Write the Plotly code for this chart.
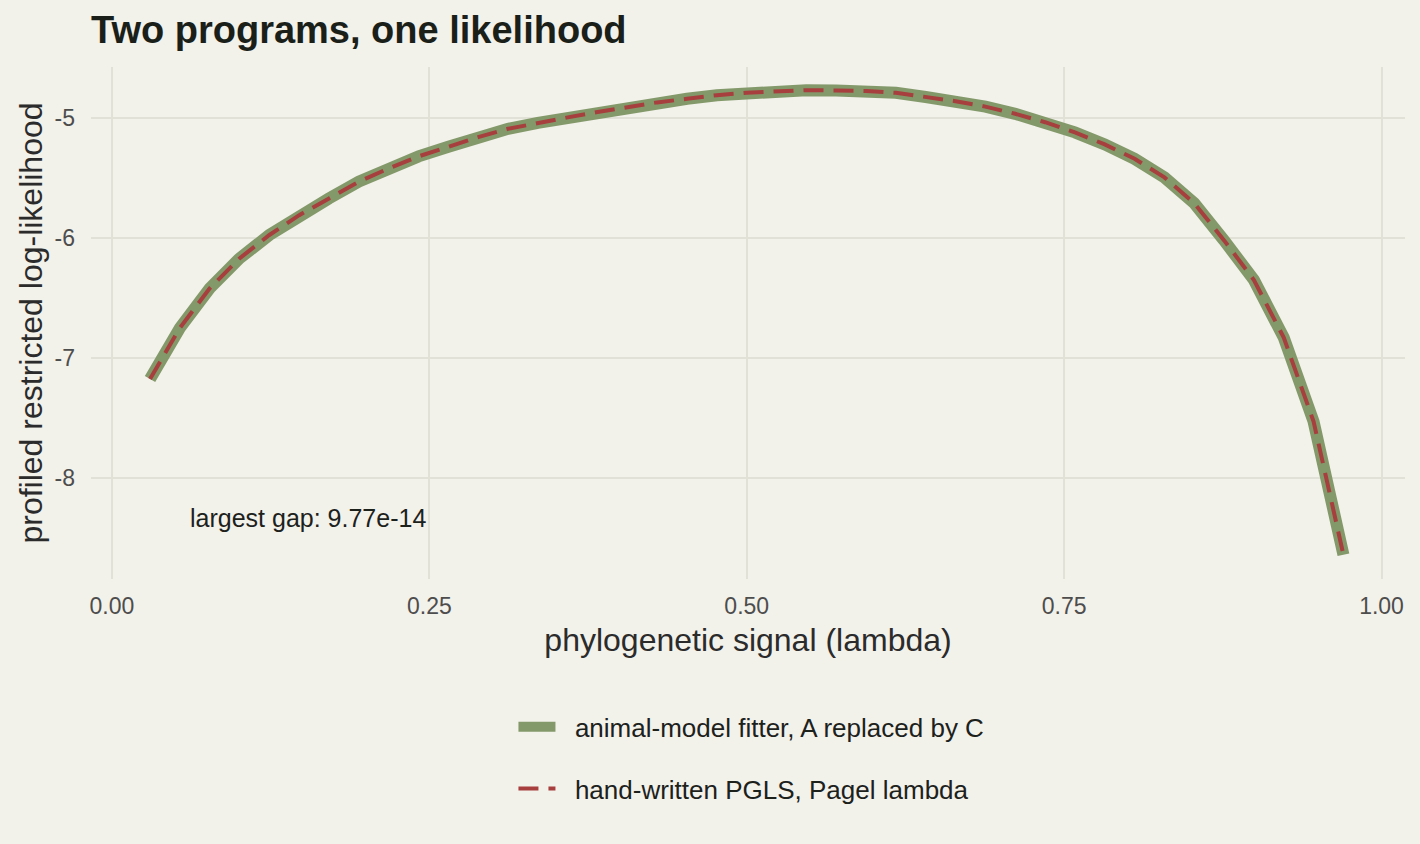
import plotly.graph_objects as go

# profile grid of lambda values and the two fitted log-likelihoods
lam = [0.03 + 0.0235 * i for i in range(41)]
loglik_animal = [-7.175, -6.75, -6.42, -6.17, -5.975, -5.81, -5.67, -5.53, -5.42, -5.32,
                 -5.24, -5.16, -5.09, -5.04, -4.995, -4.95, -4.91, -4.87, -4.84, -4.81,
                 -4.79, -4.775, -4.768, -4.77, -4.775, -4.79, -4.825, -4.86, -4.905, -4.965,
                 -5.035, -5.12, -5.22, -5.34, -5.495, -5.71, -6.02, -6.35, -6.83, -7.53, -8.64]
loglik_pgls = list(loglik_animal)

x_ticks = [0.0, 0.25, 0.5, 0.75, 1.0]
x_ticktext = ["0.00", "0.25", "0.50", "0.75", "1.00"]
y_ticks = [-8, -7, -6, -5]
y_ticktext = ["-8", "-7", "-6", "-5"]

bg = "#f2f1ea"
grid = "#e2e1d8"
font = "Liberation Sans, Arial, Helvetica, sans-serif"
pad = "\u00a0\u00a0"  # keeps the legend text clear of the key

fig = go.Figure()
fig.add_trace(go.Scatter(x=lam, y=loglik_animal, mode="lines",
                         name=pad + "animal-model fitter, A replaced by C",
                         legendgroup="a",
                         line=dict(color="#83996a", width=12)))
fig.add_trace(go.Scatter(x=lam, y=loglik_pgls, mode="lines",
                         name=pad + "hand-written PGLS, Pagel lambda",
                         legendgroup="b",
                         line=dict(color="#a63f3d", width=4, dash="20px,10px")))

fig.add_annotation(x=0.06, y=-8.335, text="largest gap: 9.77e-14", showarrow=False,
                   xanchor="left", yanchor="middle",
                   font=dict(size=25, color="#1c211c", family=font))

fig.update_layout(
    width=1420, height=844,
    paper_bgcolor=bg, plot_bgcolor=bg,
    margin=dict(l=91, r=15, t=67, b=265),
    font=dict(family=font, color="#1c211c"),
    title=dict(text="<b>Two programs, one likelihood</b>", x=91 / 1420, xanchor="left",
               y=1 - 30 / 844, yanchor="middle",
               font=dict(size=38, color="#1a1f1a", family=font)),
    showlegend=True,
    legend=dict(orientation="v", x=0.3215, xanchor="left", y=-0.243, yanchor="top",
                bgcolor="rgba(0,0,0,0)", font=dict(size=26, color="#1c211c"),
                tracegroupgap=25, itemwidth=37),
    xaxis=dict(range=[-0.0165, 1.0185], tickvals=x_ticks, ticktext=x_ticktext,
               showgrid=True, gridcolor=grid, gridwidth=2, zeroline=False,
               showline=False, ticks="", ticklabelstandoff=11,
               tickfont=dict(size=23, color="#4d4d4d"),
               title=dict(text="phylogenetic signal (lambda)", standoff=10,
                          font=dict(size=32, color="#2b2b2b"))),
    yaxis=dict(range=[-8.842, -4.575], tickvals=y_ticks, ticktext=y_ticktext,
               showgrid=True, gridcolor=grid, gridwidth=2, zeroline=False,
               showline=False, ticks="", ticklabelstandoff=15,
               tickfont=dict(size=23, color="#4d4d4d"),
               title=dict(text="profiled restricted log-likelihood", standoff=2,
                          font=dict(size=32, color="#2b2b2b"))),
)

fig.write_html("out.html", config={"displayModeBar": False},
               post_script="document.body.style.margin='0';document.body.style.overflow='hidden';")
